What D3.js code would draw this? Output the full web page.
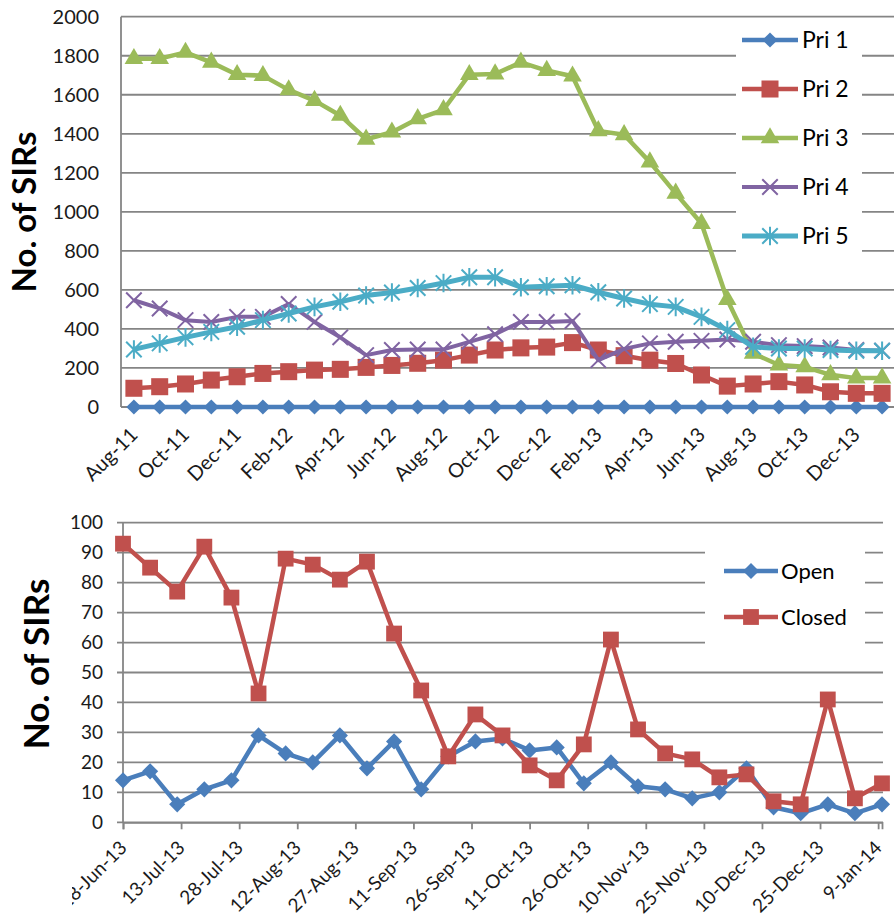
<!DOCTYPE html>
<html>
<head>
<meta charset="utf-8">
<script src="https://cdn.jsdelivr.net/npm/d3@7"></script>
<style>
  body { margin: 0; background: #fff; }
  text { font-family: Lato, "Open Sans", sans-serif; fill: #1a1a1a; }
</style>
</head>
<body>
<div id="chart"></div>
<script>
// ---- data: top chart (monthly SIRs by priority) ----
let months = ["Aug-11","Sep-11","Oct-11","Nov-11","Dec-11","Jan-12","Feb-12","Mar-12","Apr-12","May-12",
              "Jun-12","Jul-12","Aug-12","Sep-12","Oct-12","Nov-12","Dec-12","Jan-13","Feb-13","Mar-13",
              "Apr-13","May-13","Jun-13","Jul-13","Aug-13","Sep-13","Oct-13","Nov-13","Dec-13","Jan-14"];
let monthLabels = ["Aug-11","Oct-11","Dec-11","Feb-12","Apr-12","Jun-12","Aug-12","Oct-12",
                   "Dec-12","Feb-13","Apr-13","Jun-13","Aug-13","Oct-13","Dec-13"];
let pri1 = [0,0,0,0,0,0,0,0,0,0,0,0,0,0,0,0,0,0,0,0,0,0,0,0,0,0,0,0,0,0];
let pri2 = [96,104,118,138,155,172,181,189,193,203,213,224,240,266,292,303,307,330,292,263,240,223,164,107,118,130,113,78,70,70];
let pri3 = [1785,1785,1817,1766,1703,1698,1625,1570,1494,1372,1408,1477,1523,1703,1706,1766,1724,1695,1415,1395,1255,1095,940,550,275,215,206,165,148,148];
let pri4 = [547,505,445,436,462,462,528,436,357,266,292,295,295,334,373,436,436,441,240,298,326,334,339,346,334,317,312,305,292,288];
let pri5 = [295,326,357,385,411,445,479,513,539,571,587,610,635,665,665,614,619,624,588,556,527,513,462,394,308,300,300,292,288,288];
let topTicks = [0,200,400,600,800,1000,1200,1400,1600,1800,2000];

// ---- data: bottom chart (weekly open / closed) ----
let weeks = ["28-Jun-13","5-Jul-13","12-Jul-13","19-Jul-13","26-Jul-13","2-Aug-13","9-Aug-13","16-Aug-13",
             "23-Aug-13","30-Aug-13","6-Sep-13","13-Sep-13","20-Sep-13","27-Sep-13","4-Oct-13","11-Oct-13",
             "18-Oct-13","25-Oct-13","1-Nov-13","8-Nov-13","15-Nov-13","22-Nov-13","29-Nov-13","6-Dec-13",
             "13-Dec-13","20-Dec-13","27-Dec-13","3-Jan-14","10-Jan-14"];
let openVals = [14,17,6,11,14,29,23,20,29,18,27,11,22,27,28,24,25,13,20,12,11,8,10,18,5,3,6,3,6];
let closedVals = [93,85,77,92,75,43,88,86,81,87,63,44,22,36,29,19,14,26,61,31,23,21,15,16,7,6,41,8,13];
let weekTicks = ["28-Jun-13","13-Jul-13","28-Jul-13","12-Aug-13","27-Aug-13","11-Sep-13","26-Sep-13",
                 "11-Oct-13","26-Oct-13","10-Nov-13","25-Nov-13","10-Dec-13","25-Dec-13","9-Jan-14"];
let bottomTicks = [0,10,20,30,40,50,60,70,80,90,100];

let parseDay = d3.timeParse("%d-%b-%y");

// custom marker shapes
let symDiamond = { draw(ctx, size) { let r = Math.sqrt(size) / 2;
  ctx.moveTo(0, -r); ctx.lineTo(r, 0); ctx.lineTo(0, r); ctx.lineTo(-r, 0); ctx.closePath(); } };
let symX = { draw(ctx, size) { let r = Math.sqrt(size) / 2;
  ctx.moveTo(-r, -r); ctx.lineTo(r, r); ctx.moveTo(r, -r); ctx.lineTo(-r, r); } };
let symStar = { draw(ctx, size) { let r = Math.sqrt(size) / 2;
  ctx.moveTo(-r, -r); ctx.lineTo(r, r); ctx.moveTo(r, -r); ctx.lineTo(-r, r);
  ctx.moveTo(0, -r * 1.2); ctx.lineTo(0, r * 1.2); } };

let gridColor = "#858585";

let svg = d3.select("#chart")
    .append("svg")
    .attr("width", 894)
    .attr("height", 917);

// ================= TOP CHART =================
let topChart = svg.append("g");

let x1 = d3.scalePoint()
    .domain(months)
    .range([121, 895])
    .padding(0.5);

let y1 = d3.scaleLinear()
    .domain([0, 2000])
    .range([407, 16.7]);

topChart.append("g").selectAll("line")
    .data(topTicks)
    .enter().append("line")
    .attr("x1", 121).attr("x2", 894)
    .attr("y1", d => y1(d)).attr("y2", d => y1(d))
    .attr("stroke", gridColor)
    .attr("stroke-width", 1.8);

topChart.append("line")
    .attr("x1", 121).attr("x2", 121)
    .attr("y1", y1(2000)).attr("y2", y1(0))
    .attr("stroke", gridColor).attr("stroke-width", 1.8);

let yAxis1 = topChart.append("g")
    .attr("transform", "translate(121,0)")
    .call(d3.axisLeft(y1).tickValues(topTicks).tickFormat(d3.format("d")).tickSize(0).tickPadding(22));
yAxis1.select(".domain").remove();
yAxis1.selectAll("text").style("font-size", "20px").style("font-family", "Lato").style("fill", "#1a1a1a");

topChart.append("g").selectAll("text")
    .data(monthLabels)
    .enter().append("text")
    .attr("transform", d => `translate(${x1(d) + 5}, 436) rotate(-45)`)
    .style("text-anchor", "end")
    .style("font-size", "20px")
    .text(d => d);

topChart.append("text")
    .attr("transform", "translate(36, 212) rotate(-90)")
    .style("text-anchor", "middle")
    .style("font-size", "33px")
    .style("font-weight", "bold")
    .style("fill", "#000")
    .text("No. of SIRs");

let topSeries = [
  { name: "Pri 1", values: pri1, color: "#4a7ebb", width: 4.5, marker: symDiamond,        size: 230, fill: true },
  { name: "Pri 2", values: pri2, color: "#c0504d", width: 4.5, marker: d3.symbolSquare,   size: 290, fill: true },
  { name: "Pri 3", values: pri3, color: "#9bbb59", width: 4.5, marker: d3.symbolTriangle, size: 150, fill: true },
  { name: "Pri 4", values: pri4, color: "#8064a2", width: 4,   marker: symX,              size: 240, fill: false },
  { name: "Pri 5", values: pri5, color: "#4bacc6", width: 5,   marker: symStar,           size: 240, fill: false }
];

let line1 = d3.line()
    .x((d, i) => x1(months[i]))
    .y(d => y1(d));

topSeries.forEach(s => {
  let g = topChart.append("g");
  g.append("path")
      .attr("d", line1(s.values))
      .attr("fill", "none")
      .attr("stroke", s.color)
      .attr("stroke-width", s.width)
      .attr("stroke-linejoin", "round");
  g.selectAll("path.mk")
      .data(s.values)
      .enter().append("path")
      .attr("class", "mk")
      .attr("transform", (d, i) => `translate(${x1(months[i])},${y1(d)})`)
      .attr("d", d3.symbol().type(s.marker).size(s.size))
      .attr("fill", s.fill ? s.color : "none")
      .attr("stroke", s.fill ? "none" : s.color)
      .attr("stroke-width", 2);
});

// legend (top)
let legend1 = topChart.append("g");
legend1.append("rect")
    .attr("x", 736).attr("y", 25).attr("width", 126).attr("height", 235)
    .attr("fill", "#fff");
topSeries.forEach((s, i) => {
  let cy = 40 + i * 49;
  legend1.append("line")
      .attr("x1", 742).attr("x2", 798).attr("y1", cy).attr("y2", cy)
      .attr("stroke", s.color).attr("stroke-width", s.width);
  legend1.append("path")
      .attr("transform", `translate(770,${cy})`)
      .attr("d", d3.symbol().type(s.marker).size(s.size))
      .attr("fill", s.fill ? s.color : "none")
      .attr("stroke", s.fill ? "none" : s.color)
      .attr("stroke-width", 2);
  legend1.append("text")
      .attr("x", 802).attr("y", cy + 8)
      .style("font-size", "23px")
      .style("fill", "#000")
      .text(s.name);
});

// ================= BOTTOM CHART =================
let botChart = svg.append("g");

let x2 = d3.scaleTime()
    .domain([parseDay("28-Jun-13"), parseDay("10-Jan-14")])
    .range([123, 882]);

let y2 = d3.scaleLinear()
    .domain([0, 100])
    .range([822.3, 522.7]);

botChart.append("g").selectAll("line")
    .data(bottomTicks)
    .enter().append("line")
    .attr("x1", 117).attr("x2", 883)
    .attr("y1", d => y2(d)).attr("y2", d => y2(d))
    .attr("stroke", gridColor)
    .attr("stroke-width", 1.8);

botChart.append("line")
    .attr("x1", 123).attr("x2", 123)
    .attr("y1", y2(100)).attr("y2", y2(0))
    .attr("stroke", gridColor).attr("stroke-width", 1.8);

let yAxis2 = botChart.append("g")
    .attr("transform", "translate(123,0)")
    .call(d3.axisLeft(y2).tickValues(bottomTicks).tickSize(0).tickPadding(20));
yAxis2.select(".domain").remove();
yAxis2.selectAll("text").style("font-size", "19px").style("font-family", "Lato").style("fill", "#1a1a1a");

let xAxis2 = botChart.append("g")
    .attr("transform", `translate(0,${y2(0)})`)
    .call(d3.axisBottom(x2)
      .tickValues(weekTicks.map(parseDay))
      .tickSize(7)
      .tickFormat(""));
xAxis2.select(".domain").attr("stroke", gridColor).attr("stroke-width", 1.8);
xAxis2.selectAll(".tick line").attr("stroke", gridColor).attr("stroke-width", 1.8);

svg.append("clipPath").attr("id", "labelClip")
  .append("rect").attr("x", 72).attr("y", 820).attr("width", 830).attr("height", 100);

botChart.append("g")
    .attr("clip-path", "url(#labelClip)")
    .selectAll("text")
    .data(weekTicks)
    .enter().append("text")
    .attr("transform", d => `translate(${x2(parseDay(d)) + 5}, 849) rotate(-45)`)
    .style("text-anchor", "end")
    .style("font-size", "19px")
    .text(d => d);

botChart.append("text")
    .attr("transform", "translate(49, 664) rotate(-90)")
    .style("text-anchor", "middle")
    .style("font-size", "35px")
    .style("font-weight", "bold")
    .style("fill", "#000")
    .text("No. of SIRs");

let botSeries = [
  { name: "Open",   values: openVals,   color: "#4a7ebb", marker: symDiamond,      size: 260 },
  { name: "Closed", values: closedVals, color: "#c0504d", marker: d3.symbolSquare, size: 250 }
];

let line2 = d3.line()
    .x((d, i) => x2(parseDay(weeks[i])))
    .y(d => y2(d));

botSeries.forEach(s => {
  let g = botChart.append("g");
  g.append("path")
      .attr("d", line2(s.values))
      .attr("fill", "none")
      .attr("stroke", s.color)
      .attr("stroke-width", 4.5)
      .attr("stroke-linejoin", "round");
  g.selectAll("path.mk")
      .data(s.values)
      .enter().append("path")
      .attr("class", "mk")
      .attr("transform", (d, i) => `translate(${x2(parseDay(weeks[i]))},${y2(d)})`)
      .attr("d", d3.symbol().type(s.marker).size(s.size))
      .attr("fill", s.color);
});

// legend (bottom)
let legend2 = botChart.append("g");
legend2.append("rect")
    .attr("x", 705).attr("y", 532).attr("width", 160).attr("height", 116)
    .attr("fill", "#fff");
botSeries.forEach((s, i) => {
  let cy = 571 + i * 46;
  legend2.append("line")
      .attr("x1", 724).attr("x2", 778).attr("y1", cy).attr("y2", cy)
      .attr("stroke", s.color).attr("stroke-width", 4.5);
  legend2.append("path")
      .attr("transform", `translate(751,${cy})`)
      .attr("d", d3.symbol().type(s.marker).size(s.size))
      .attr("fill", s.color);
  legend2.append("text")
      .attr("x", 781).attr("y", cy + 8)
      .style("font-size", "22px")
      .style("fill", "#000")
      .text(s.name);
});
</script>
</body>
</html>
